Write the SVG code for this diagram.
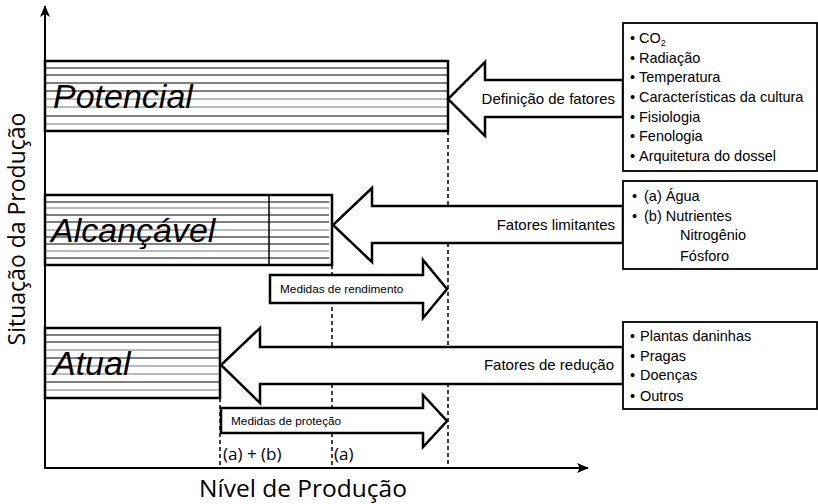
<svg xmlns="http://www.w3.org/2000/svg" width="818" height="504" viewBox="0 0 818 504">
<style>
.bar{fill:#fff;stroke:#000;stroke-width:2.5}
.hl{stroke:#000;stroke-width:1}
.hg{stroke:#777;stroke-width:1}
.big{font-family:"Liberation Sans",Arial,sans-serif;font-style:italic;font-size:34px;fill:#000}
.arr{fill:#fff;stroke:#000;stroke-width:2.5;stroke-linejoin:miter}
.box{fill:#fff;stroke:#000;stroke-width:1.8}
.t{font-family:"Liberation Sans",Arial,sans-serif;font-size:14.5px;fill:#000}
.a{font-family:"Liberation Sans",Arial,sans-serif;font-size:15px;fill:#000}
.s{font-family:"Liberation Sans",Arial,sans-serif;font-size:11.8px;fill:#000}
.ax{font-family:"Open Sans","DejaVu Sans",sans-serif;font-size:24.5px;fill:#000}
.lab{font-family:"Open Sans","Liberation Sans",sans-serif;font-size:17px;fill:#000}
.dash{stroke:#000;stroke-width:1.5;stroke-dasharray:4,3;fill:none}
.axis{stroke:#000;stroke-width:2;fill:none}
</style>
<defs>
<marker id="ah" viewBox="0 0 12 10" refX="11" refY="5" markerWidth="12" markerHeight="10" markerUnits="userSpaceOnUse" orient="auto">
<path d="M0,0 L12,5 L0,10 L3,5 Z" fill="#000"/>
</marker>
</defs>

<g id="connectors">
<line class="dash" x1="448" y1="131" x2="448" y2="468"/>
<line class="dash" x1="332" y1="265" x2="332" y2="468"/>
<line class="dash" x1="220" y1="398" x2="220" y2="468"/>
</g>

<g id="axes">
<line class="axis" x1="45" y1="468" x2="45" y2="6" marker-end="url(#ah)"/>
<line class="axis" x1="44" y1="468" x2="588" y2="468" marker-end="url(#ah)"/>
<text class="ax" x="303" y="497" text-anchor="middle">Nível de Produção</text>
<text class="ax" style="font-size:23px" transform="translate(25,229) rotate(-90)" text-anchor="middle">Situação da Produção</text>
</g>

<g id="potencial">
<rect class="bar" x="45" y="61" width="403" height="70"/>
<g>
<line class="hl" x1="46" y1="68" x2="447" y2="68"/>
<line class="hl" x1="46" y1="75" x2="447" y2="75"/>
<line class="hl" x1="46" y1="83" x2="447" y2="83"/>
<line class="hl" x1="46" y1="91" x2="447" y2="91"/>
<line class="hg" x1="46" y1="99" x2="447" y2="99"/>
<line class="hg" x1="46" y1="107" x2="447" y2="107"/>
<line class="hl" x1="46" y1="116" x2="447" y2="116"/>
<line class="hg" x1="46" y1="124" x2="447" y2="124"/>
</g>
<text class="big" x="53" y="108">Potencial</text>
</g>

<g id="alcancavel">
<rect class="bar" x="45" y="195" width="287" height="70"/>
<g>
<line class="hl" x1="46" y1="202" x2="329" y2="202"/>
<line class="hg" x1="46" y1="208" x2="329" y2="208"/>
<line class="hl" x1="46" y1="215" x2="329" y2="215"/>
<line class="hl" x1="46" y1="222" x2="329" y2="222"/>
<line class="hg" x1="46" y1="230" x2="329" y2="230"/>
<line class="hl" x1="46" y1="237" x2="329" y2="237"/>
<line class="hl" x1="46" y1="244" x2="329" y2="244"/>
<line class="hg" x1="46" y1="251" x2="329" y2="251"/>
<line class="hl" x1="46" y1="258" x2="329" y2="258"/>
</g>
<line x1="269" y1="195" x2="269" y2="265" stroke="#000" stroke-width="1.5"/>
<text class="big" x="51" y="242">Alcançável</text>
</g>

<g id="atual">
<rect class="bar" x="45" y="328" width="175" height="70"/>
<g>
<line class="hl" x1="46" y1="335" x2="219" y2="335"/>
<line class="hl" x1="46" y1="342" x2="219" y2="342"/>
<line class="hg" x1="46" y1="350" x2="219" y2="350"/>
<line class="hl" x1="46" y1="358" x2="219" y2="358"/>
<line class="hg" x1="46" y1="366" x2="219" y2="366"/>
<line class="hg" x1="46" y1="374" x2="219" y2="374"/>
<line class="hl" x1="46" y1="382" x2="219" y2="382"/>
<line class="hg" x1="46" y1="390" x2="219" y2="390"/>
</g>
<text class="big" x="53" y="375">Atual</text>
</g>

<g id="arrow-definicao">
<polygon class="arr" points="623,80 485,80 485,62 448,99 485,136 485,117 623,117"/>
<text class="a" x="615" y="104" text-anchor="end">Definição de fatores</text>
</g>

<g id="arrow-limitantes">
<polygon class="arr" points="623,206 372,206 372,188 333,225 372,262 372,243 623,243"/>
<text class="a" x="615" y="230" text-anchor="end">Fatores limitantes</text>
</g>

<g id="arrow-reducao">
<polygon class="arr" points="623,347 260,347 260,328 221,365 260,403 260,384 623,384"/>
<text class="a" x="614" y="370" text-anchor="end">Fatores de redução</text>
</g>

<g id="arrow-rendimento">
<polygon class="arr" points="270,275 423,275 423,260 447,289 423,318 423,303 270,303"/>
<text class="s" x="280" y="293">Medidas de rendimento</text>
</g>

<g id="arrow-protecao">
<polygon class="arr" points="221,408 423,408 423,395 447,421 423,447 423,433 221,433"/>
<text class="s" x="231" y="425">Medidas de proteção</text>
</g>

<g id="box-fatores">
<rect class="box" x="623" y="23" width="194" height="148"/>
<text class="t"><tspan x="630" y="43">•</tspan><tspan x="639" y="43">CO</tspan><tspan font-size="9px" dy="3">2</tspan></text>
<text class="t"><tspan x="630" y="63">•</tspan><tspan x="639" y="63">Radiação</tspan></text>
<text class="t"><tspan x="630" y="82">•</tspan><tspan x="639" y="82">Temperatura</tspan></text>
<text class="t"><tspan x="630" y="102">•</tspan><tspan x="639" y="102">Características da cultura</tspan></text>
<text class="t"><tspan x="630" y="122">•</tspan><tspan x="639" y="122">Fisiologia</tspan></text>
<text class="t"><tspan x="630" y="141">•</tspan><tspan x="639" y="141">Fenologia</tspan></text>
<text class="t"><tspan x="630" y="161">•</tspan><tspan x="639" y="161">Arquitetura do dossel</tspan></text>
</g>

<g id="box-limitantes">
<rect class="box" x="623" y="181" width="194" height="88"/>
<text class="t"><tspan x="632" y="201">•</tspan><tspan x="644" y="201">(a) Água</tspan></text>
<text class="t"><tspan x="632" y="221">•</tspan><tspan x="644" y="221">(b) Nutrientes</tspan></text>
<text class="t" x="680" y="240">Nitrogênio</text>
<text class="t" x="680" y="261">Fósforo</text>
</g>

<g id="box-reducao">
<rect class="box" x="623" y="322" width="194" height="87"/>
<text class="t"><tspan x="630" y="341">•</tspan><tspan x="640" y="341">Plantas daninhas</tspan></text>
<text class="t"><tspan x="630" y="361">•</tspan><tspan x="640" y="361">Pragas</tspan></text>
<text class="t"><tspan x="630" y="380">•</tspan><tspan x="640" y="380">Doenças</tspan></text>
<text class="t"><tspan x="630" y="401">•</tspan><tspan x="640" y="401">Outros</tspan></text>
</g>

<g id="labels">
<text class="lab" x="223" y="460">(a) + (b)</text>
<text class="lab" x="334" y="460">(a)</text>
</g>
</svg>
